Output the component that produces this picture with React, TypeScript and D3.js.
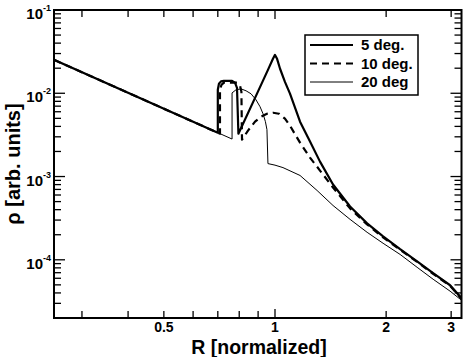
import React, { useEffect, useRef } from 'react'
import * as d3 from 'd3'

type Pt = [number, number]

// [R, rho]
const deg5: Pt[] = [
  [0.252, 0.0252], [0.7, 0.00336], [0.7, 0.011], [0.705, 0.013], [0.714, 0.0139],
  [0.727, 0.0141], [0.765, 0.0141], [0.779, 0.0134], [0.789, 0.0116], [0.796, 0.00327],
  [0.883, 0.0088], [0.957, 0.0191], [0.988, 0.0262], [1.0, 0.0289], [1.013, 0.0259],
  [1.032, 0.0197], [1.064, 0.0137], [1.098, 0.0099], [1.169, 0.00456], [1.244, 0.00263],
  [1.324, 0.00151], [1.436, 0.000802], [1.597, 0.000437], [1.776, 0.000274], [1.962, 0.000191],
  [2.182, 0.000134], [2.426, 9.6e-5], [2.681, 6.9e-5], [2.98, 4.95e-5], [3.2, 3.46e-5],
]

const deg10: Pt[] = [
  [0.252, 0.0252], [0.7095, 0.00327], [0.7095, 0.011], [0.716, 0.0126], [0.727, 0.0134],
  [0.789, 0.0134], [0.804, 0.0123], [0.811, 0.0104], [0.814, 0.00277], [0.845, 0.00356],
  [0.883, 0.00456], [0.917, 0.00523], [0.951, 0.00568], [0.988, 0.00584], [1.025, 0.00568],
  [1.064, 0.00495], [1.098, 0.00408], [1.169, 0.00255], [1.244, 0.00169], [1.324, 0.00118],
  [1.436, 0.000738], [1.597, 0.000414], [1.776, 0.000266], [1.962, 0.000186], [2.182, 0.000132],
  [2.426, 9.46e-5], [2.681, 6.8e-5], [2.98, 4.88e-5], [3.2, 3.41e-5],
]

const deg20: Pt[] = [
  [0.252, 0.0252], [0.765, 0.00282], [0.765, 0.0101], [0.784, 0.011], [0.809, 0.0113],
  [0.835, 0.0107], [0.861, 0.00986], [0.888, 0.00836], [0.911, 0.00689], [0.928, 0.00568],
  [0.942, 0.00456], [0.951, 0.00366], [0.957, 0.00143], [1.0, 0.00137], [1.051, 0.00128],
  [1.169, 0.00103], [1.3, 0.00068], [1.436, 0.000449], [1.597, 0.000306], [1.776, 0.000214],
  [1.962, 0.000158], [2.182, 0.000116], [2.426, 8.13e-5], [2.681, 5.84e-5], [2.98, 4.2e-5],
  [3.2, 3.27e-5],
]

const seriesNames = ['5 deg.', '10 deg.', '20 deg']
const xTickLabels = [0.5, 1, 2, 3]
const yDecades = [-1, -2, -3, -4]

const FONT = 'Liberation Sans, Arial, Helvetica, sans-serif'

const App = () => {
  const ref = useRef<SVGSVGElement>(null)

  useEffect(() => {
    const width = 463
    const height = 357
    const left = 54
    const right = 461.5
    const top = 10
    const bottom = 318

    const svg = d3.select(ref.current).attr('width', width).attr('height', height)
    svg.selectAll('*').remove()

    const x = d3.scaleLog().domain([0.252, 3.2]).range([left, right])
    const y = d3.scaleLog().domain([2e-5, 0.1]).range([bottom, top])

    svg.append('defs').append('clipPath').attr('id', 'plot')
      .append('rect').attr('x', left).attr('y', top).attr('width', right - left).attr('height', bottom - top)

    const line = d3.line<Pt>().x((d) => x(d[0])).y((d) => y(d[1]))

    const styles = [
      { w: 2.2, dash: null },
      { w: 2.2, dash: '7,5' },
      { w: 1, dash: null },
    ]
    const data = [deg5, deg10, deg20]

    const g = svg.append('g').attr('clip-path', 'url(#plot)')
    data.forEach((d, i) => {
      g.append('path')
        .attr('d', line(d))
        .attr('fill', 'none')
        .attr('stroke', '#000')
        .attr('stroke-width', styles[i].w)
        .attr('stroke-linejoin', 'round')
        .attr('stroke-dasharray', styles[i].dash)
    })

    // ticks, mirrored on all four sides
    const ax = svg.append('g').attr('stroke', '#000').attr('stroke-width', 1.3)
    x.ticks().forEach((t) => {
      const len = t === 1 ? 9 : 7
      ax.append('line').attr('x1', x(t)).attr('x2', x(t)).attr('y1', bottom).attr('y2', bottom - len)
      ax.append('line').attr('x1', x(t)).attr('x2', x(t)).attr('y1', top).attr('y2', top + len)
    })
    y.ticks().forEach((t) => {
      const major = Math.abs(Math.log10(t) - Math.round(Math.log10(t))) < 1e-6
      const len = major ? 11 : 7
      ax.append('line').attr('x1', left).attr('x2', left + len).attr('y1', y(t)).attr('y2', y(t))
      ax.append('line').attr('x1', right).attr('x2', right - len).attr('y1', y(t)).attr('y2', y(t))
    })

    svg.append('rect')
      .attr('x', left).attr('y', top).attr('width', right - left).attr('height', bottom - top)
      .attr('fill', 'none').attr('stroke', '#000').attr('stroke-width', 2)

    // tick labels
    xTickLabels.forEach((t) => {
      svg.append('text')
        .attr('x', x(t)).attr('y', 332)
        .attr('text-anchor', 'middle')
        .attr('font-family', FONT).attr('font-weight', 'bold').attr('font-size', 14)
        .text(String(t))
    })
    yDecades.forEach((p) => {
      const ty = y(Math.pow(10, p))
      svg.append('text')
        .attr('x', 43).attr('y', ty + 9)
        .attr('text-anchor', 'end')
        .attr('font-family', FONT).attr('font-weight', 'bold').attr('font-size', 15)
        .text('10')
      svg.append('text')
        .attr('x', 43).attr('y', ty + 1)
        .attr('font-family', FONT).attr('font-weight', 'bold').attr('font-size', 9)
        .text(String(p))
    })

    // axis titles
    svg.append('text')
      .attr('x', 259).attr('y', 354)
      .attr('text-anchor', 'middle')
      .attr('font-family', FONT).attr('font-weight', 'bold').attr('font-size', 19.5)
      .text('R [normalized]')
    svg.append('text')
      .attr('transform', 'translate(20,164) rotate(-90)')
      .attr('text-anchor', 'middle')
      .attr('font-family', FONT).attr('font-weight', 'bold').attr('font-size', 20)
      .text('ρ [arb. units]')

    // legend
    const lg = svg.append('g')
    lg.append('rect').attr('x', 305).attr('y', 35).attr('width', 113).attr('height', 60)
      .attr('fill', '#fff').attr('stroke', '#000').attr('stroke-width', 1.5)
    const rows = [45, 63.5, 82]
    seriesNames.forEach((name, i) => {
      lg.append('line').attr('x1', 310).attr('x2', 353).attr('y1', rows[i]).attr('y2', rows[i])
        .attr('stroke', '#000').attr('stroke-width', styles[i].w)
        .attr('stroke-dasharray', styles[i].dash)
      lg.append('text').attr('x', 361).attr('y', rows[i] + 5)
        .attr('font-family', FONT).attr('font-weight', 'bold').attr('font-size', 15)
        .text(name)
    })
  }, [])

  return (
    <svg ref={ref} style={{ position: 'absolute', left: 0, top: 0, background: '#fff' }}></svg>
  )
}

export default App
